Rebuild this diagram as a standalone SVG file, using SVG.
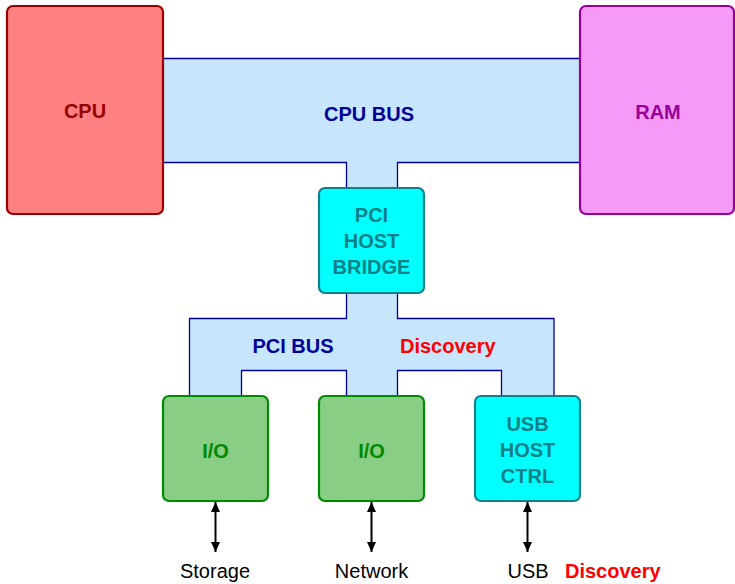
<svg xmlns="http://www.w3.org/2000/svg" width="735" height="584" viewBox="0 0 735 584">
<style>
text{font-family:"Liberation Sans",Arial,Helvetica,sans-serif;font-size:20px;text-anchor:middle}
.b{font-weight:bold}
.bus{fill:#C7E5FB;stroke:#000099;stroke-width:1.3}
.cpu{fill:#FF8080;stroke:#990000;stroke-width:2.2}
.ram{fill:#F59BF7;stroke:#990099;stroke-width:2.2}
.cyan{fill:#00FFFF;stroke:#0E8088;stroke-width:2.2}
.io{fill:#88CE84;stroke:#008A00;stroke-width:2.2}
.t-cpu{fill:#990000}
.t-ram{fill:#990099}
.t-bus{fill:#000099}
.t-cyan{fill:#0E8088}
.t-io{fill:#008A00}
.red{fill:#FF0000}
.arrow{stroke:#000;stroke-width:2;fill:none}
</style>
<defs>
<marker id="ah" viewBox="0 0 10 10" refX="10" refY="5" markerWidth="10" markerHeight="10" markerUnits="userSpaceOnUse" orient="auto-start-reverse">
<path d="M0,0.5 L10,5 L0,9.5 Z" fill="#000"/>
</marker>
</defs>
<g id="cpu-bus">
<polygon class="bus" points="163,58.5 581,58.5 581,162.5 397.5,162.5 397.5,189 346.5,189 346.5,162.5 163,162.5"/>
<text class="b t-bus" x="369" y="121">CPU BUS</text>
</g>
<g id="pci-bus">
<polygon class="bus" points="346.5,292 397.5,292 397.5,318.5 554,318.5 554,397 501.5,397 501.5,370.5 397.5,370.5 397.5,397 346.5,397 346.5,370.5 241.5,370.5 241.5,397 189.5,397 189.5,318.5 346.5,318.5"/>
<text class="b t-bus" x="293" y="353">PCI BUS</text>
<text class="b red" x="400" y="353" style="text-anchor:start">Discovery</text>
</g>
<g id="cpu">
<rect class="cpu" x="7" y="6" width="156" height="208" rx="6"/>
<text class="b t-cpu" x="85" y="118">CPU</text>
</g>
<g id="ram">
<rect class="ram" x="580" y="6" width="154" height="208" rx="6"/>
<text class="b t-ram" x="658" y="119">RAM</text>
</g>
<g id="pci-host-bridge">
<rect class="cyan" x="319" y="188" width="105" height="105" rx="6"/>
<text class="b t-cyan" x="371.5" y="222">PCI</text>
<text class="b t-cyan" x="371.5" y="248">HOST</text>
<text class="b t-cyan" x="371.5" y="274">BRIDGE</text>
</g>
<g id="io-storage">
<rect class="io" x="163" y="396" width="105" height="105" rx="6"/>
<text class="b t-io" x="215.5" y="457.5">I/O</text>
</g>
<g id="io-network">
<rect class="io" x="319" y="396" width="105" height="105" rx="6"/>
<text class="b t-io" x="371.5" y="457.5">I/O</text>
</g>
<g id="usb-host-ctrl">
<rect class="cyan" x="475" y="396" width="105" height="105" rx="6"/>
<text class="b t-cyan" x="527.5" y="431">USB</text>
<text class="b t-cyan" x="527.5" y="457">HOST</text>
<text class="b t-cyan" x="527.5" y="483">CTRL</text>
</g>
<g id="connectors">
<line class="arrow" x1="215.5" y1="502" x2="215.5" y2="552" marker-start="url(#ah)" marker-end="url(#ah)"/>
<line class="arrow" x1="371.5" y1="502" x2="371.5" y2="552" marker-start="url(#ah)" marker-end="url(#ah)"/>
<line class="arrow" x1="527.5" y1="502" x2="527.5" y2="552" marker-start="url(#ah)" marker-end="url(#ah)"/>
</g>
<g id="labels">
<text x="215" y="578">Storage</text>
<text x="371.5" y="578">Network</text>
<text x="528" y="578">USB</text>
<text class="b red" x="565" y="578" style="text-anchor:start">Discovery</text>
</g>
</svg>
